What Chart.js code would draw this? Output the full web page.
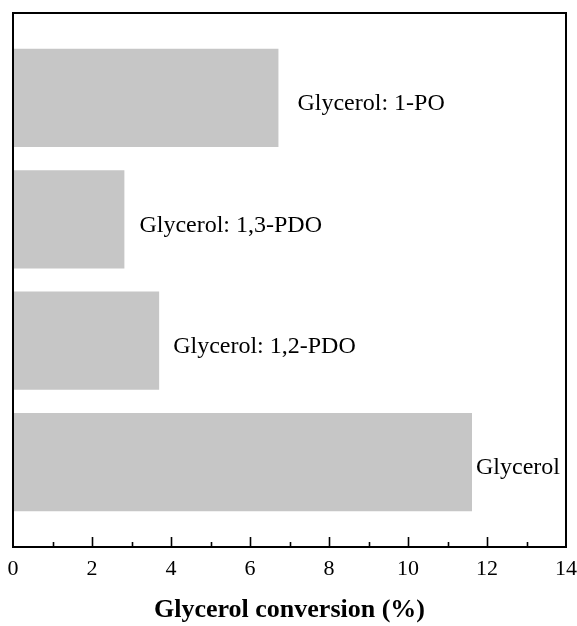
<!DOCTYPE html>
<html>
<head>
<meta charset="utf-8">
<script src="https://cdn.jsdelivr.net/npm/chart.js@4.4.1/dist/chart.umd.min.js"></script>
<style>
  html, body { margin: 0; padding: 0; background: #fff; }
  #wrap { width: 577px; height: 626px; }
</style>
</head>
<body>
<div id="wrap"><canvas id="chart" width="577" height="626"></canvas></div>
<script>
// bar names, top to bottom
const categories = ['Glycerol: 1-PO', 'Glycerol: 1,3-PDO', 'Glycerol: 1,2-PDO', 'Glycerol'];
// glycerol conversion, %
const conversion = [6.72, 2.82, 3.70, 11.62];
const xTicks = [0, 2, 4, 6, 8, 10, 12, 14];

// gap between bar end and its label (px)
const labelGap = [19, 15, 14, 4];
const serif = '"Liberation Serif", "Times New Roman", serif';

const frame = {
  id: 'frame',
  afterDatasetsDraw(chart) {
    const { ctx, chartArea: a, scales } = chart;
    const x = scales.x, y = scales.y;
    ctx.save();
    // labels beside the bars
    ctx.fillStyle = '#000';
    ctx.font = '24px ' + serif;
    ctx.textBaseline = 'middle';
    ctx.textAlign = 'left';
    categories.forEach((c, i) => {
      const px = x.getPixelForValue(conversion[i]) + labelGap[i];
      const py = y.getPixelForValue(i) + 6;
      ctx.fillText(c, px, py);
    });
    // box
    ctx.strokeStyle = '#000';
    ctx.lineWidth = 2;
    ctx.strokeRect(a.left, a.top, a.right - a.left, a.bottom - a.top);
    // inward ticks on the bottom axis
    ctx.lineWidth = 1.6;
    for (let v = x.min; v <= x.max; v++) {
      if (v === x.min || v === x.max) continue;
      const px = Math.round(x.getPixelForValue(v)) + 0.5;
      const len = v % 2 === 0 ? 10 : 5;
      ctx.beginPath();
      ctx.moveTo(px, a.bottom);
      ctx.lineTo(px, a.bottom - len);
      ctx.stroke();
    }
    ctx.restore();
  }
};

new Chart(document.getElementById('chart'), {
  type: 'bar',
  data: {
    datasets: [{
      data: categories.map((c, i) => ({ x: conversion[i], y: i })),
      backgroundColor: '#c6c6c6',
      borderWidth: 0,
      barPercentage: 0.81,
      categoryPercentage: 1
    }]
  },
  options: {
    indexAxis: 'y',
    responsive: false,
    animation: false,
    layout: { padding: { left: 13, right: 11, top: 13, bottom: 0 } },
    plugins: { legend: { display: false }, tooltip: { enabled: false } },
    scales: {
      x: {
        type: 'linear',
        min: 0,
        max: 14,
        afterBuildTicks(s) { s.ticks = xTicks.map(v => ({ value: v })); },
        afterFit(s) { s.height = 79; s.paddingLeft = 0; s.paddingRight = 0; },
        grid: { display: false },
        border: { display: false },
        ticks: {
          color: '#000',
          padding: 1,
          maxRotation: 0,
          font: { family: serif, size: 22 }
        },
        title: {
          display: true,
          text: 'Glycerol conversion (%)',
          color: '#000',
          font: { family: serif, size: 26, weight: 'bold' },
          padding: { top: 0, bottom: 0 }
        }
      },
      y: {
        type: 'linear',
        min: -0.7,
        max: 3.7,
        reverse: true,
        offset: false,
        afterBuildTicks(s) { s.ticks = categories.map((c, i) => ({ value: i })); },
        afterFit(s) { s.width = 0; },
        grid: { display: false },
        border: { display: false },
        ticks: { display: false }
      }
    }
  },
  plugins: [frame]
});
</script>
</body>
</html>
